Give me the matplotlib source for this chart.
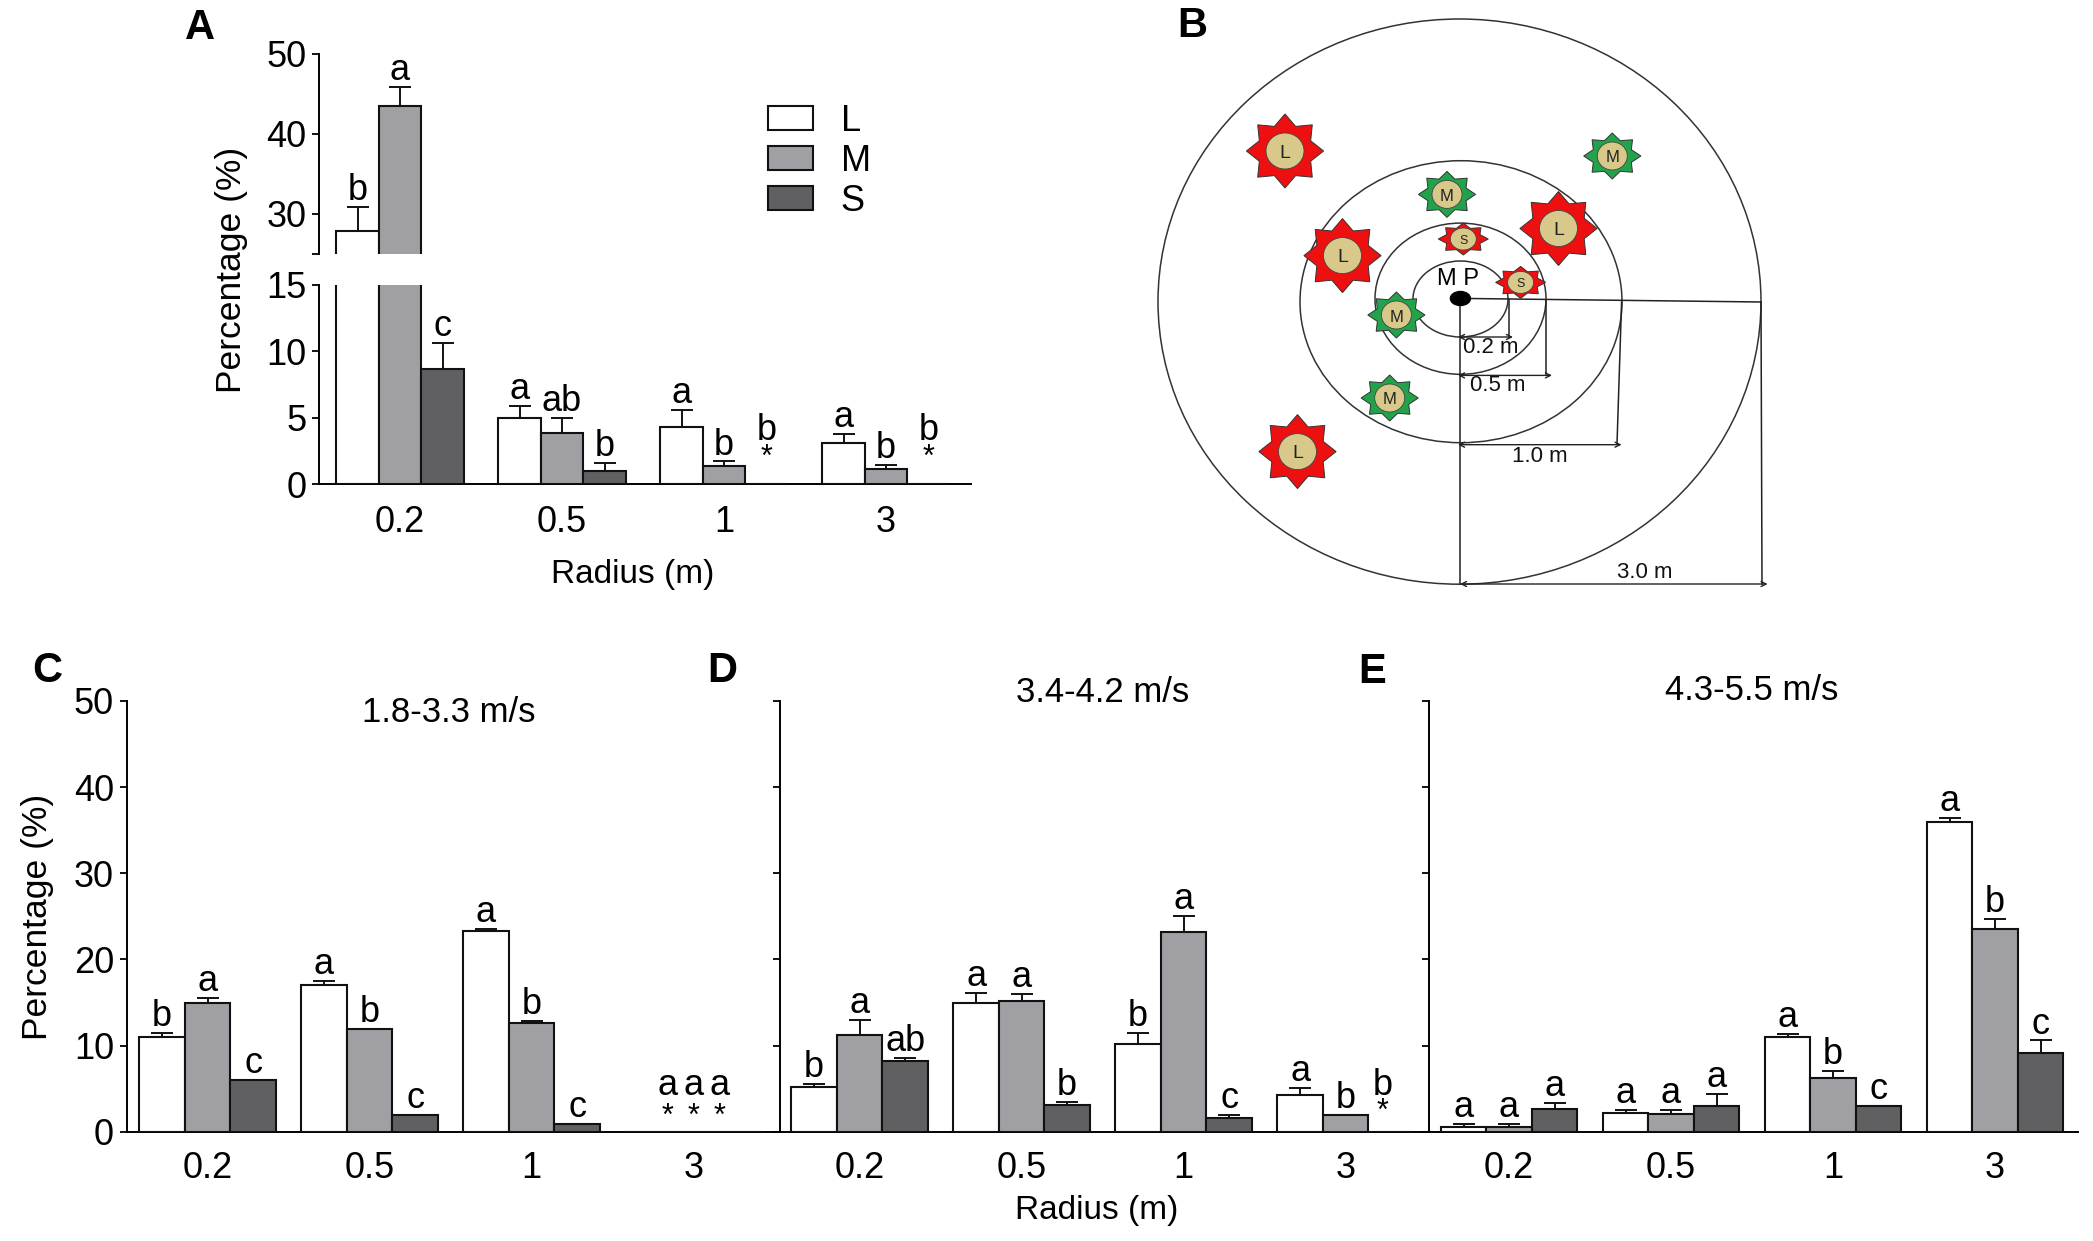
#!/usr/bin/env python3
"""Five-panel figure: visits by radius and plant size, plus the plot layout sketch."""

import matplotlib
matplotlib.use("Agg")
import matplotlib.pyplot as plt
import numpy as np
from matplotlib.patches import Ellipse, Polygon

W, H = 2093, 1241
plt.rcParams["font.family"] = ["Liberation Sans", "DejaVu Sans"]

radius_labels = ["0.2", "0.5", "1", "3"]
size_names = ["L", "M", "S"]
size_colors = ["#ffffff", "#a0a0a4", "#606062"]

# panel A
a_vals = [[27.8, 5.0, 4.3, 3.1], [43.5, 3.85, 1.35, 1.15], [8.7, 1.0, 0, 0]]
a_tops = [[30.8, 5.85, 5.55, 3.8], [45.8, 5.0, 1.7, 1.45], [10.6, 1.6, 0, 0]]
a_sig = [["b", "a", "a", "a"], ["a", "ab", "b", "b"], ["c", "b", "b", "b"]]

# panel C
c_vals = [[11.0, 17.0, 23.25, 0], [15.0, 11.9, 12.6, 0], [6.0, 1.9, 0.9, 0]]
c_tops = [[11.5, 17.55, 23.55, 0], [15.5, 11.9, 12.9, 0], [6.0, 1.9, 0.9, 0]]
c_sig = [["b", "a", "a", "a"], ["a", "b", "b", "a"], ["c", "c", "c", "a"]]

# panel D
d_vals = [[5.2, 14.9, 10.2, 4.3], [11.2, 15.15, 23.2, 1.9], [8.2, 3.15, 1.55, 0]]
d_tops = [[5.5, 16.1, 11.5, 5.1], [13.0, 16.0, 25.0, 1.9], [8.6, 3.5, 1.9, 0]]
d_sig = [["b", "a", "b", "a"], ["a", "a", "a", "b"], ["ab", "b", "c", "b"]]

# panel E
e_vals = [[0.55, 2.15, 11.0, 35.9], [0.55, 2.1, 6.2, 23.55], [2.6, 2.95, 2.95, 9.15]]
e_tops = [[0.9, 2.5, 11.4, 36.45], [0.9, 2.5, 7.1, 24.65], [3.4, 4.35, 2.95, 10.6]]
e_sig = [["a", "a", "a", "a"], ["a", "a", "b", "b"], ["a", "a", "c", "c"]]

# panel B sketch, in picture pixels
ring_x = [1460.5, 1460.5, 1461, 1459.5]
ring_y = [299, 298.7, 301.7, 301.6]
ring_rx = [47.5, 85.5, 161, 301.5]
ring_ry = [38, 75.6, 141, 282.6]
large_x = [1285, 1342.5, 1558.5, 1297.5]
large_y = [151, 255.6, 228.5, 451.6]
medium_x = [1612.3, 1447, 1396.4, 1389.7]
medium_y = [156, 194.4, 315, 398]
small_x = [1463.3, 1520.6]
small_y = [239, 282.4]

TICK_FS = 26
SIG_FS = 26


def add_axes_px(left, top, right, bottom):
    return fig.add_axes([left / W, 1 - bottom / H, (right - left) / W, (bottom - top) / H])


def px_text(x, y, s, **kw):
    kw.setdefault("ha", "center")
    kw.setdefault("va", "center")
    kw.setdefault("fontsize", 24)
    fig.text(x / W, 1 - y / H, s, **kw)


def style_axis(ax, left, right, first_center, group_px=162.0):
    ax.set_xlim((left - first_center) / group_px, (right - first_center) / group_px)
    ax.spines["top"].set_visible(False)
    ax.spines["right"].set_visible(False)
    ax.spines["left"].set_linewidth(1.4)
    ax.spines["bottom"].set_linewidth(1.4)
    ax.patch.set_alpha(0)
    ax.tick_params(axis="y", direction="out", length=5, width=1.3, pad=4, labelsize=TICK_FS)


def draw_bars(ax, vals, tops, width):
    handles = []
    for k in range(3):
        x = np.arange(4) + (k - 1) * width
        v = np.asarray(vals[k], dtype=float)
        t = np.asarray(tops[k], dtype=float)
        h = ax.bar(x, v, width=width, color=size_colors[k], edgecolor="#111111", linewidth=1.5, zorder=3)
        handles.append(h)
        m = t > v
        ax.errorbar(x[m], v[m], yerr=[np.zeros(m.sum()), (t - v)[m]], fmt="none", ecolor="#111111",
                    elinewidth=1.4, capsize=8, capthick=1.4, zorder=2)
    return handles


def draw_letters(ax_for, vals, tops, sig, width, star_y, letter_y, spread=None):
    # letters above the error caps; empty bars get an asterisk with the letter over it
    spread = width if spread is None else spread
    for k in range(3):
        for g in range(4):
            if vals[k][g] == 0:
                ax = ax_for(star_y)
                x = g + (k - 1) * spread
                ax.annotate("*", (x, star_y), ha="center", va="center", fontsize=22, annotation_clip=False)
                ax.annotate(sig[k][g], (x, letter_y), ha="center", va="baseline", fontsize=SIG_FS, annotation_clip=False)
            else:
                top = max(tops[k][g], vals[k][g])
                ax = ax_for(top)
                ax.annotate(sig[k][g], (g + (k - 1) * width, top), xytext=(0, 5), textcoords="offset points",
                            ha="center", va="baseline", fontsize=SIG_FS, annotation_clip=False)


fig = plt.figure(figsize=(W / 100, H / 100), dpi=100)

# A: broken y axis
w_a = 42.5 / 162
ax_lo = add_axes_px(319, 285, 971, 484)
ax_up = add_axes_px(319, 53.6, 971, 253.5)
for ax in (ax_lo, ax_up):
    style_axis(ax, 319, 971, 400)
h_a = draw_bars(ax_lo, a_vals, a_tops, w_a)
draw_bars(ax_up, a_vals, a_tops, w_a)
ax_lo.set_ylim(0, 15)
ax_up.set_ylim(25, 50)
ax_lo.set_yticks([0, 5, 10, 15])
ax_up.set_yticks([25, 30, 40, 50])
ax_up.set_yticklabels(["", "30", "40", "50"])
ax_up.spines["bottom"].set_visible(False)
ax_up.set_xticks([])
ax_lo.set_xticks(range(4))
ax_lo.set_xticklabels(radius_labels)
ax_lo.tick_params(axis="x", direction="in", length=3, width=1.2, pad=15, labelsize=TICK_FS)
draw_letters(lambda y: ax_up if y > 15 else ax_lo, a_vals, a_tops, a_sig, w_a, 2.0, 3.3)
ax_lo.legend(h_a, size_names, loc="upper left", bbox_to_anchor=(764 / W, 1 - 100 / H), bbox_transform=fig.transFigure,
             frameon=False, fontsize=TICK_FS, handlelength=1.27, handleheight=0.67, handletextpad=0.75,
             labelspacing=0.14, borderpad=0.1, borderaxespad=0)
px_text(231, 270, "Percentage (%)", rotation=90, fontsize=25.5)
px_text(633, 574, "Radius (m)")

# C, D, E
panels = [
    (126.5, 780, 207.5, c_vals, c_tops, c_sig, 26 / 162, 1.7),
    (780, 1428.7, 859.6, d_vals, d_tops, d_sig, 37 / 162, 2.3),
    (1428.7, 2077.6, 1509, e_vals, e_tops, e_sig, None, 1.9),
]
w_c = 45.5 / 162
for i, (left, right, c0, vals, tops, sig, spread, star_y) in enumerate(panels):
    ax = add_axes_px(left, 701, right, 1131.8)
    style_axis(ax, left, right, c0)
    draw_bars(ax, vals, tops, w_c)
    ax.set_ylim(0, 50)
    ax.set_yticks(range(0, 51, 10))
    if i > 0:
        ax.set_yticklabels([])
    ax.set_xticks(range(4))
    ax.set_xticklabels(radius_labels)
    ax.tick_params(axis="x", length=0, pad=14, labelsize=TICK_FS)
    draw_letters(lambda y, a=ax: a, vals, tops, sig, w_c, star_y, 4.3, spread)

px_text(38, 916.5, "Percentage (%)", rotation=90, fontsize=25.5)
px_text(1097, 1211, "Radius (m)")
px_text(449, 712.7, "1.8-3.3 m/s", fontsize=25)
px_text(1102.7, 692.7, "3.4-4.2 m/s", fontsize=25)
px_text(1751.8, 690.8, "4.3-5.5 m/s", fontsize=25)

# B: sketch of the rings and plants
ov = fig.add_axes([0, 0, 1, 1], zorder=-1)
ov.set_xlim(0, W)
ov.set_ylim(H, 0)
ov.axis("off")
for x, y, rx, ry in zip(ring_x, ring_y, ring_rx, ring_ry):
    ov.add_patch(Ellipse((x, y), 2 * rx, 2 * ry, fill=False, edgecolor="#333333", linewidth=1.1))
ov.add_patch(Ellipse((1460.4, 298.5), 20, 14, color="black", zorder=6))
px_text(1458, 278.6, "M P", fontsize=17)


def draw_plant(x, y, rx, ry, core_rx, core_ry, color, letter, size):
    ang = np.pi / 2 + np.arange(16) * np.pi / 8
    rad = np.where(np.arange(16) % 2 == 0, 1.0, 0.72)
    ov.add_patch(Polygon(np.column_stack([x + rx * rad * np.cos(ang), y - ry * rad * np.sin(ang)]),
                         facecolor=color, edgecolor="#333333", linewidth=0.7, zorder=4))
    ov.add_patch(Ellipse((x, y), 2 * core_rx, 2 * core_ry, facecolor="#d8c98a", edgecolor="#444444",
                         linewidth=0.6, zorder=5))
    ov.text(x, y + 2, letter, ha="center", va="center", fontsize=size, color="#222222", zorder=6)


for x, y in zip(large_x, large_y):
    draw_plant(x, y, 38.6, 37, 19, 18, "#ee1010", "L", 14)
for x, y in zip(medium_x, medium_y):
    draw_plant(x, y, 28.6, 23, 15, 14, "#22a24a", "M", 12)
for x, y in zip(small_x, small_y):
    draw_plant(x, y, 25, 16, 13, 11, "#ee1010", "S", 9)

line_kw = dict(color="#222222", linewidth=1.1, zorder=3)
ov.plot([1469, 1761], [298.5, 302], **line_kw)
ov.plot([1460.4, 1460.4], [298.5, 584], **line_kw)
ov.plot([1509, 1509], [298.5, 337], **line_kw)
ov.plot([1546, 1546], [300, 375], **line_kw)
ov.plot([1621.6, 1617], [302, 444], **line_kw)
ov.plot([1761, 1762], [302, 584], **line_kw)
arrow_kw = dict(arrowstyle="<->", color="#222222", linewidth=1.0, shrinkA=0, shrinkB=0, mutation_scale=9)
for x0, x1, y, label, tx, ty in [
    (1458, 1513, 337, "0.2 m", 1491, 347.5),
    (1458, 1552, 375.4, "0.5 m", 1497.4, 385.8),
    (1458, 1621.6, 444.7, "1.0 m", 1540, 456),
    (1460, 1767.6, 584, "3.0 m", 1644.7, 573),
]:
    ov.annotate("", xy=(x1, y), xytext=(x0, y), arrowprops=arrow_kw)
    ov.text(tx, ty, label, ha="center", va="center", fontsize=16, color="#111111", zorder=6)

# panel letters
for s, x, y in [("A", 200, 28), ("B", 1192, 26), ("C", 47.4, 671), ("D", 722, 671), ("E", 1372, 672)]:
    px_text(x, y, s, fontsize=30, fontweight="bold")

fig.savefig("out.png", dpi=100)
